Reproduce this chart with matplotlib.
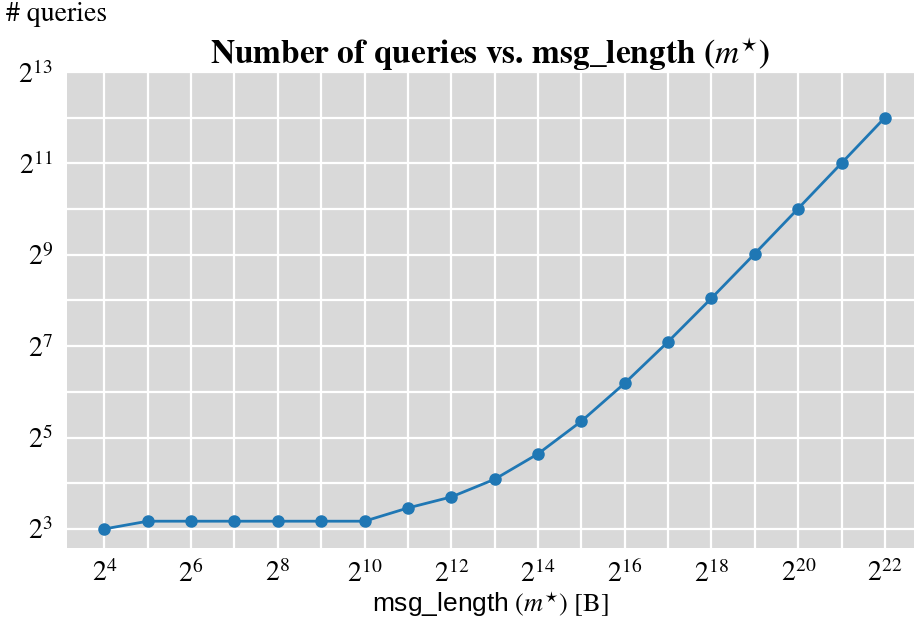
import matplotlib
matplotlib.use("Agg")
import matplotlib.pyplot as plt
from matplotlib.ticker import FixedLocator, FuncFormatter, NullFormatter
import numpy as np

plt.rcParams['mathtext.fontset'] = 'custom'
plt.rcParams['mathtext.rm'] = 'STIXGeneral'
plt.rcParams['mathtext.it'] = 'STIXGeneral:italic'
plt.rcParams['mathtext.bf'] = 'STIXGeneral:bold'
plt.rcParams['mathtext.sf'] = 'Liberation Sans'
plt.rcParams['font.family'] = ['STIXGeneral', 'DejaVu Serif']

# data
msg_length_exp = [4, 5, 6, 7, 8, 9, 10, 11, 12, 13, 14, 15, 16, 17, 18, 19, 20, 21, 22]
queries = [8, 9, 9, 9, 9, 9, 9, 11, 13, 17, 25, 41, 73, 137, 265, 521, 1033, 2057, 4105]
x_label_exps = [4, 6, 8, 10, 12, 14, 16, 18, 20, 22]
y_label_exps = [3, 5, 7, 9, 11, 13]

x = [2.0 ** e for e in msg_length_exp]

fig = plt.figure(figsize=(9.14, 6.25), dpi=100)
ax = fig.add_axes([66.7 / 914, 1 - 547.7 / 625, 1 - 66.7 / 914, (547.7 - 72) / 625])
ax.set_facecolor('#d9d9d9')
for s in ax.spines.values():
    s.set_visible(False)

ax.set_xscale('log', base=2)
ax.set_yscale('log', base=2)

ax.plot(x, queries, color='#1f77b4', linewidth=2, marker='o', markersize=8, zorder=3)

ax.set_xlim(2 ** 3.133, 2 ** 22.67)
ax.set_ylim(2 ** 2.59, 2 ** 13)

ax.xaxis.set_major_locator(FixedLocator([2.0 ** e for e in x_label_exps]))
ax.xaxis.set_minor_locator(FixedLocator([2.0 ** e for e in range(3, 24) if e not in x_label_exps]))
ax.yaxis.set_major_locator(FixedLocator([2.0 ** e for e in y_label_exps]))
ax.yaxis.set_minor_locator(FixedLocator([2.0 ** e for e in range(2, 14) if e not in y_label_exps]))

fmt = FuncFormatter(lambda v, p: r'$2^{%d}$' % int(round(np.log2(v))))
ax.xaxis.set_major_formatter(fmt)
ax.yaxis.set_major_formatter(fmt)
ax.xaxis.set_minor_formatter(NullFormatter())
ax.yaxis.set_minor_formatter(NullFormatter())

ax.tick_params(which='both', length=0, labelsize=20)
ax.tick_params(axis='x', pad=9)
ax.tick_params(axis='y', pad=10)
ax.grid(True, which='both', color='white', linewidth=1.6)
ax.set_axisbelow(True)

ax.set_title(r'Number of queries vs. msg_length ($m^{\star}$)', fontsize=24,
             fontweight='bold', pad=6)
ax.set_xlabel(r'$\mathsf{msg\_length}$ $(m^{\star})$ [B]', fontsize=19, labelpad=1)
fig.text(6 / 914, 1 - 14 / 625, '# queries', fontsize=20, ha='left', va='center')

fig.savefig('out.png', dpi=100)
